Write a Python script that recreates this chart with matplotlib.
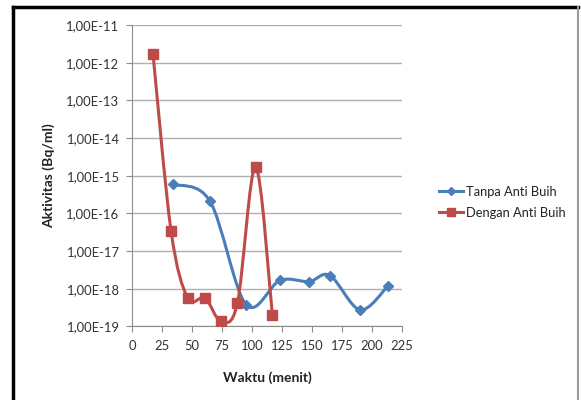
import numpy as np
import matplotlib.pyplot as plt
from matplotlib.path import Path
from matplotlib.patches import PathPatch
from matplotlib.lines import Line2D
from matplotlib.ticker import FixedLocator, FuncFormatter

plt.rcParams['font.family'] = ['Lato', 'DejaVu Sans']

# Data (waktu in menit, aktivitas in Bq/ml)
tanpa_x = [34.4, 65, 95, 123.3, 147.5, 165, 190, 213]
tanpa_y = [5.9e-16, 2.1e-16, 3.8e-19, 1.66e-18, 1.55e-18, 2.24e-18, 2.75e-19, 1.15e-18]

dengan_x = [17.5, 32.5, 46.4, 60.8, 73.9, 87.8, 103, 117]
dengan_y = [1.7e-12, 3.5e-17, 5.7e-19, 5.7e-19, 1.4e-19, 4.1e-19, 1.7e-15, 2.0e-19]

BLUE = '#4a7ebb'
RED = '#be4b48'


def smooth_path(xs, ys):
    # Catmull-Rom style bezier through the points, built in (x, log y) space
    x = np.asarray(xs, float)
    ly = np.log10(np.asarray(ys, float))
    n = len(x)
    verts = [(x[0], ys[0])]
    codes = [Path.MOVETO]
    for i in range(n - 1):
        i0, i3 = max(i - 1, 0), min(i + 2, n - 1)
        c1x = x[i] + (x[i + 1] - x[i0]) / 6
        c1y = ly[i] + (ly[i + 1] - ly[i0]) / 6
        c2x = x[i + 1] - (x[i3] - x[i]) / 6
        c2y = ly[i + 1] - (ly[i3] - ly[i]) / 6
        verts += [(c1x, 10 ** c1y), (c2x, 10 ** c2y), (x[i + 1], ys[i + 1])]
        codes += [Path.CURVE4] * 3
    return Path(verts, codes)


fig = plt.figure(figsize=(5.81, 4.0), dpi=100)
ax = fig.add_axes([0.2272, 0.184, 0.4647, 0.7535])

ax.set_yscale('log')
ax.set_xlim(0, 225)
ax.set_ylim(1e-19, 1e-11)

for xs, ys, col in [(tanpa_x, tanpa_y, BLUE), (dengan_x, dengan_y, RED)]:
    ax.add_patch(PathPatch(smooth_path(xs, ys), facecolor='none', edgecolor=col,
                           lw=2.2, capstyle='round', joinstyle='round', zorder=3))
ax.plot(tanpa_x, tanpa_y, 'D', color=BLUE, ms=5.5, zorder=4)
ax.plot(dengan_x, dengan_y, 's', color=RED, ms=7.5, zorder=4)

ax.xaxis.set_major_locator(FixedLocator(np.arange(0, 226, 25)))
ax.yaxis.set_major_locator(FixedLocator([10.0 ** k for k in range(-19, -10)]))
ax.yaxis.set_minor_locator(FixedLocator([]))
ax.yaxis.set_major_formatter(FuncFormatter(
    lambda v, p: '1,00E%d' % int(round(np.log10(v)))))

ax.grid(axis='y', color='#b0b0b0', lw=1)
ax.set_axisbelow(True)
for s in ['top', 'right']:
    ax.spines[s].set_visible(False)
for s in ['left', 'bottom']:
    ax.spines[s].set_color('#8c8c8c')
ax.tick_params(colors='#8c8c8c', length=4, labelcolor='#333333', labelsize=9.4)
ax.tick_params(axis='y', pad=5)
ax.tick_params(axis='x', pad=6)

ax.set_xlabel('Waktu (menit)', fontweight='bold', fontsize=10, labelpad=14, color='#222222')
ax.set_ylabel('Aktivitas (Bq/ml)', fontweight='bold', fontsize=10, labelpad=8, color='#222222')

handles = [
    Line2D([], [], color=BLUE, lw=2.2, marker='D', ms=4.5),
    Line2D([], [], color=RED, lw=2.2, marker='s', ms=6),
]
fig.legend(handles, ['Tanpa Anti Buih', 'Dengan Anti Buih'], loc='upper left',
           bbox_to_anchor=(0.735, 0.565), frameon=False, fontsize=9.3,
           handlelength=1.9, handletextpad=0.2, labelspacing=0.7,
           labelcolor='#222222')

# outer chart frame
fig.add_artist(Line2D([13 / 581, 578 / 581], [1 - 7 / 400] * 2, color='black', lw=2.5))
fig.add_artist(Line2D([13 / 581] * 2, [0, 1 - 7 / 400], color='black', lw=2.5))
fig.add_artist(Line2D([578 / 581] * 2, [0, 1 - 7 / 400], color='#9a9a9a', lw=1.5))

fig.savefig('out.png', dpi=100)
